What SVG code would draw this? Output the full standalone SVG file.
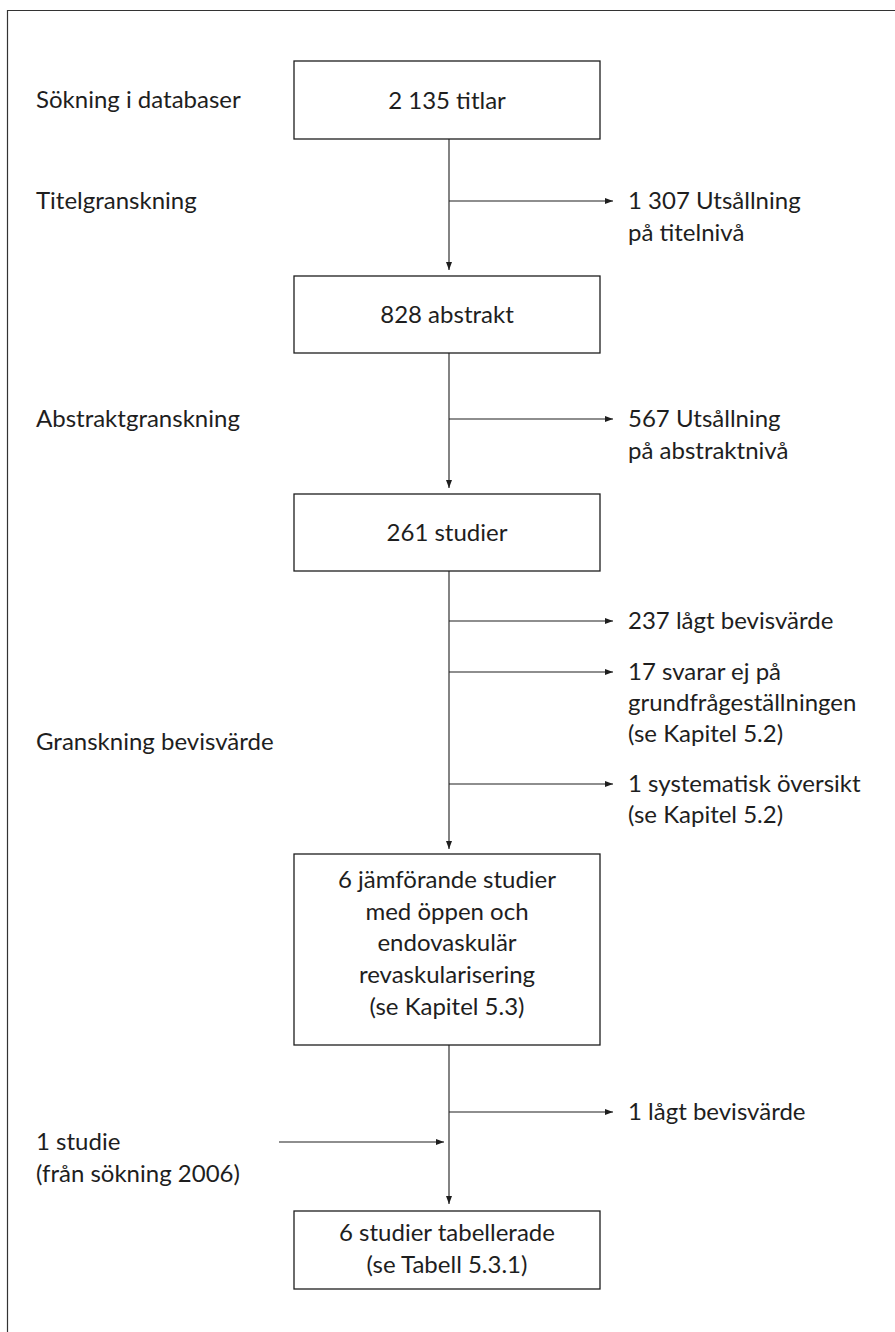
<svg xmlns="http://www.w3.org/2000/svg" width="895" height="1332" viewBox="0 0 895 1332">
<style>
  text { font-family: Lato, "Noto Sans", "Liberation Sans", sans-serif; font-size: 24px; fill: #1e1e1e; }
  .c { text-anchor: middle; }
  .box { fill: #ffffff; stroke: #1e1e1e; stroke-width: 1.3; }
  .ln { fill: none; stroke: #1e1e1e; stroke-width: 1.1; }
  .frame { fill: none; stroke: #333333; stroke-width: 1.2; }
</style>
<defs>
  <marker id="ah" viewBox="0 0 8 6" refX="8" refY="3" markerWidth="8" markerHeight="6" markerUnits="userSpaceOnUse" orient="auto">
    <path d="M0,0 L8,3 L0,6 Z" fill="#1e1e1e"/>
  </marker>
</defs>
<rect width="895" height="1332" fill="#ffffff"/>
<path class="frame" d="M7.5,1332 V10.5 H895"/>

<g id="labels-left">
  <text x="36" y="108">Sökning i databaser</text>
  <text x="36" y="209">Titelgranskning</text>
  <text x="36" y="427">Abstraktgranskning</text>
  <text x="36" y="750">Granskning bevisvärde</text>
  <text x="36" y="1150">1 studie</text>
  <text x="36" y="1182">(från sökning 2006)</text>
</g>

<g id="n1"><rect class="box" x="294" y="61" width="306" height="78"/><text class="c" x="447" y="109">2 135 titlar</text></g>
<g id="n2"><rect class="box" x="294" y="276" width="306" height="77"/><text class="c" x="447" y="323">828 abstrakt</text></g>
<g id="n3"><rect class="box" x="294" y="494" width="306" height="77"/><text class="c" x="447" y="541">261 studier</text></g>
<g id="n4"><rect class="box" x="294" y="854" width="306" height="191"/>
  <text class="c" x="447" y="888">6 jämförande studier</text>
  <text class="c" x="447" y="920">med öppen och</text>
  <text class="c" x="447" y="951">endovaskulär</text>
  <text class="c" x="447" y="983">revaskularisering</text>
  <text class="c" x="447" y="1015">(se Kapitel 5.3)</text>
</g>
<g id="n5"><rect class="box" x="294" y="1211" width="306" height="78"/>
  <text class="c" x="447" y="1241">6 studier tabellerade</text>
  <text class="c" x="447" y="1273">(se Tabell 5.3.1)</text>
</g>

<g id="excl">
  <text x="628" y="209">1 307 Utsållning</text>
  <text x="628" y="241">på titelnivå</text>
  <text x="628" y="427">567 Utsållning</text>
  <text x="628" y="459">på abstraktnivå</text>
  <text x="628" y="629">237 lågt bevisvärde</text>
  <text x="628" y="680">17 svarar ej på</text>
  <text x="628" y="711">grundfrågeställningen</text>
  <text x="628" y="742">(se Kapitel 5.2)</text>
  <text x="628" y="792">1 systematisk översikt</text>
  <text x="628" y="823">(se Kapitel 5.2)</text>
  <text x="628" y="1120">1 lågt bevisvärde</text>
</g>

<g id="connectors">
  <line class="ln" x1="449" y1="139" x2="449" y2="270" marker-end="url(#ah)"/>
  <line class="ln" x1="449" y1="353" x2="449" y2="488" marker-end="url(#ah)"/>
  <line class="ln" x1="449" y1="571" x2="449" y2="849" marker-end="url(#ah)"/>
  <line class="ln" x1="449" y1="1045" x2="449" y2="1204" marker-end="url(#ah)"/>
  <line class="ln" x1="449" y1="201" x2="613" y2="201" marker-end="url(#ah)"/>
  <line class="ln" x1="449" y1="419" x2="613" y2="419" marker-end="url(#ah)"/>
  <line class="ln" x1="449" y1="621" x2="613" y2="621" marker-end="url(#ah)"/>
  <line class="ln" x1="449" y1="672" x2="613" y2="672" marker-end="url(#ah)"/>
  <line class="ln" x1="449" y1="784" x2="613" y2="784" marker-end="url(#ah)"/>
  <line class="ln" x1="449" y1="1112" x2="613" y2="1112" marker-end="url(#ah)"/>
  <line class="ln" x1="279" y1="1142" x2="444" y2="1142" marker-end="url(#ah)"/>
</g>
</svg>
